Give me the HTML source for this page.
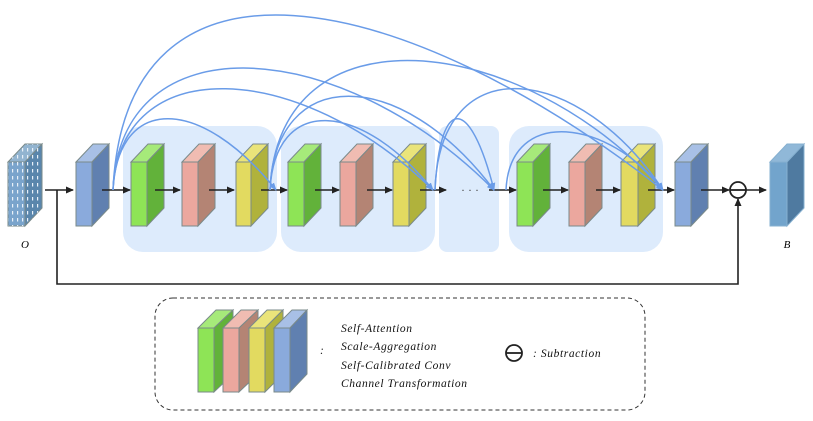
<!DOCTYPE html>
<html><head><meta charset="utf-8"><style>
html,body{margin:0;padding:0;background:#fff;width:813px;height:421px;overflow:hidden}
text{font-family:"Liberation Serif",serif;font-style:italic}
</style></head><body>
<svg width="813" height="421" viewBox="0 0 813 421" xmlns="http://www.w3.org/2000/svg">
<defs>
<marker id="ak" markerWidth="8" markerHeight="8" refX="7" refY="4" orient="auto" markerUnits="userSpaceOnUse"><path d="M0,0.5 L8,4 L0,7.5 z" fill="#222"/></marker>
<marker id="ab" markerWidth="8" markerHeight="8" refX="7" refY="4" orient="auto" markerUnits="userSpaceOnUse"><path d="M0,1 L8,4 L0,7 z" fill="#6a9ce8"/></marker>
<pattern id="dots" width="5" height="7" patternUnits="userSpaceOnUse"><rect width="5" height="7" fill="none"/><rect x="2" y="1" width="1.2" height="3.5" fill="#e8f0f8"/></pattern>
</defs>
<g fill="#ddebfc">
<rect x="123" y="126" width="154" height="126" rx="20"/>
<rect x="281" y="126" width="154" height="126" rx="20"/>
<rect x="439" y="126" width="60" height="126" rx="8"/>
<rect x="509" y="126" width="154" height="126" rx="20"/>
</g>
<g stroke="#7a8a8a" stroke-width="1">
<g><polygon points="8,162 25,144 42,144 25,162" fill="#92b4d0"/><polygon points="25,162 42,144 42,208 25,226" fill="#5a86ac"/><rect x="8" y="162" width="17" height="64" fill="#7aa4cc"/>
<polygon points="8,162 25,144 42,144 25,162" fill="url(#dots)" stroke="none"/><polygon points="25,162 42,144 42,208 25,226" fill="url(#dots)" stroke="none"/><rect x="8" y="162" width="17" height="64" fill="url(#dots)" stroke="none"/></g>
<g><polygon points="76,162 93,144 109,144 92,162" fill="#a8c0e6"/><polygon points="92,162 109,144 109,208 92,226" fill="#6080b0"/><rect x="76" y="162" width="16" height="64" fill="#8aaadc"/></g>
<g><polygon points="131,162 148,144 164,144 147,162" fill="#a6ea7a"/><polygon points="147,162 164,144 164,208 147,226" fill="#62b23a"/><rect x="131" y="162" width="16" height="64" fill="#8ee456"/></g>
<g><polygon points="288,162 305,144 321,144 304,162" fill="#a6ea7a"/><polygon points="304,162 321,144 321,208 304,226" fill="#62b23a"/><rect x="288" y="162" width="16" height="64" fill="#8ee456"/></g>
<g><polygon points="517,162 534,144 550,144 533,162" fill="#a6ea7a"/><polygon points="533,162 550,144 550,208 533,226" fill="#62b23a"/><rect x="517" y="162" width="16" height="64" fill="#8ee456"/></g>
<g><polygon points="182,162 199,144 215,144 198,162" fill="#f0bcb2"/><polygon points="198,162 215,144 215,208 198,226" fill="#b48474"/><rect x="182" y="162" width="16" height="64" fill="#eba79e"/></g>
<g><polygon points="340,162 357,144 373,144 356,162" fill="#f0bcb2"/><polygon points="356,162 373,144 373,208 356,226" fill="#b48474"/><rect x="340" y="162" width="16" height="64" fill="#eba79e"/></g>
<g><polygon points="569,162 586,144 602,144 585,162" fill="#f0bcb2"/><polygon points="585,162 602,144 602,208 585,226" fill="#b48474"/><rect x="569" y="162" width="16" height="64" fill="#eba79e"/></g>
<g><polygon points="236,162 253,144 268,144 251,162" fill="#eae47a"/><polygon points="251,162 268,144 268,208 251,226" fill="#b0b23c"/><rect x="236" y="162" width="15" height="64" fill="#e2da60"/></g>
<g><polygon points="393,162 410,144 426,144 409,162" fill="#eae47a"/><polygon points="409,162 426,144 426,208 409,226" fill="#b0b23c"/><rect x="393" y="162" width="16" height="64" fill="#e2da60"/></g>
<g><polygon points="621,162 638,144 655,144 638,162" fill="#eae47a"/><polygon points="638,162 655,144 655,208 638,226" fill="#b0b23c"/><rect x="621" y="162" width="17" height="64" fill="#e2da60"/></g>
<g><polygon points="675,162 692,144 708,144 691,162" fill="#a8c0e6"/><polygon points="691,162 708,144 708,208 691,226" fill="#6080b0"/><rect x="675" y="162" width="16" height="64" fill="#8aaadc"/></g>
</g>
<g stroke="#86b0d0"><polygon points="770,162 787,144 804,144 787,162" fill="#90b8d8"/><polygon points="787,162 804,144 804,208 787,226" fill="#4f7aa0"/><rect x="770" y="162" width="17" height="64" fill="#72a4cc"/></g>
<g stroke="#222" stroke-width="1.6" fill="none" marker-end="url(#ak)">
<line x1="45" y1="190" x2="73" y2="190"/>
<line x1="102" y1="190" x2="130" y2="190"/>
<line x1="155" y1="190" x2="180" y2="190"/>
<line x1="209" y1="190" x2="234" y2="190"/>
<line x1="261" y1="190" x2="287" y2="190"/>
<line x1="315" y1="190" x2="339" y2="190"/>
<line x1="367" y1="190" x2="392" y2="190"/>
<line x1="420" y1="190" x2="446" y2="190"/>
<line x1="489" y1="190" x2="516" y2="190"/>
<line x1="543" y1="190" x2="568" y2="190"/>
<line x1="596" y1="190" x2="620" y2="190"/>
<line x1="648" y1="190" x2="674" y2="190"/>
<line x1="701" y1="190" x2="729" y2="190"/>
<line x1="746" y1="190" x2="766" y2="190"/>
<polyline points="57,190 57,284 738,284 738,199"/>
</g>
<circle cx="738" cy="190" r="8" fill="#fff" stroke="#222" stroke-width="1.8"/>
<line x1="730" y1="190" x2="746" y2="190" stroke="#222" stroke-width="1.8"/>
<text x="470" y="194" font-size="12" fill="#444" text-anchor="middle" style="font-style:normal">· · ·</text>
<g stroke="#6a9ce8" stroke-width="1.5" fill="none" marker-end="url(#ab)">
<path d="M113,190 C118,95 200,95 276,190"/>
<path d="M113,190 C120,50 300,60 433,190"/>
<path d="M113,190 C120,20 340,35 494,190"/>
<path d="M113,190 C125,-70 400,-15 663,190"/>
<path d="M270,190 C275,95 360,100 433,190"/>
<path d="M270,190 C275,65 400,65 494,190"/>
<path d="M270,190 C278,5 520,30 663,190"/>
<path d="M435,190 C440,95 470,95 494,190"/>
<path d="M435,190 C440,45 580,65 663,190"/>
<path d="M506,190 C510,105 610,120 663,190"/>
</g>
<text x="25" y="248" font-size="11" text-anchor="middle">O</text>
<text x="787" y="248" font-size="11" text-anchor="middle">B</text>
<rect x="155" y="298" width="490" height="112" rx="18" fill="none" stroke="#333" stroke-width="1" stroke-dasharray="4,3"/>
<g stroke="#7a8a8a">
<g><polygon points="198,328 216,310 233,310 214,328" fill="#a6ea7a"/><polygon points="214,328 233,310 233,374 214,392" fill="#62b23a"/><rect x="198" y="328" width="16" height="64" fill="#8ee456"/></g>
<g><polygon points="223,328 241,310 258,310 239,328" fill="#f0bcb2"/><polygon points="239,328 258,310 258,374 239,392" fill="#b48474"/><rect x="223" y="328" width="16" height="64" fill="#eba79e"/></g>
<g><polygon points="249,328 267,310 283,310 265,328" fill="#eae47a"/><polygon points="265,328 283,310 283,374 265,392" fill="#b0b23c"/><rect x="249" y="328" width="16" height="64" fill="#e2da60"/></g>
<g><polygon points="274,328 292,310 307,310 290,328" fill="#a8c0e6"/><polygon points="290,328 307,310 307,374 290,392" fill="#6080b0"/><rect x="274" y="328" width="16" height="64" fill="#8aaadc"/></g>
</g>
<g font-size="11.5" fill="#111" letter-spacing="0.6">
<text x="320" y="354">:</text>
<text x="341" y="332">Self-Attention</text>
<text x="341" y="350">Scale-Aggregation</text>
<text x="341" y="369">Self-Calibrated Conv</text>
<text x="341" y="387">Channel Transformation</text>
<text x="533" y="357">: Subtraction</text>
</g>
<circle cx="514" cy="353" r="8" fill="#fff" stroke="#222" stroke-width="1.8"/>
<line x1="506" y1="353" x2="522" y2="353" stroke="#222" stroke-width="1.8"/>
</svg>
</body></html>
